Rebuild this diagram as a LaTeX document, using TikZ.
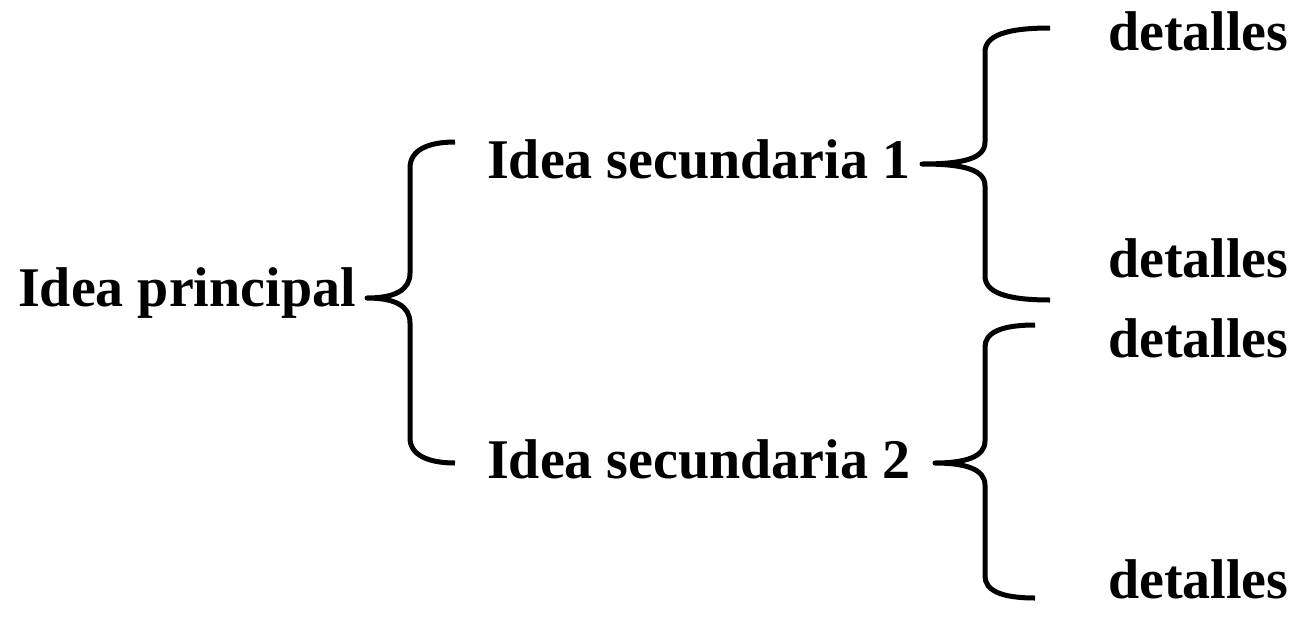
\documentclass[tikz,border=0pt]{standalone}
\usepackage{fontspec}
\setmainfont{Liberation Serif}
\begin{document}
\begin{tikzpicture}[x=1pt,y=-1pt,
  lbl/.style={anchor=base west,inner sep=0pt,font=\fontsize{56}{60}\selectfont\bfseries},
  bracestyle/.style={line width=5pt,line cap=butt,line join=round}]
\useasboundingbox[fill=white] (0,0) rectangle (1294,619);
% texts
\node[lbl] (main) at (18,306) {Idea principal};
\node[lbl] (s1) at (487,178) {Idea secundaria 1};
\node[lbl] (s2) at (487,478) {Idea secundaria 2};
\node[lbl] (d1) at (1108,50) {detalles};
\node[lbl] (d2) at (1108,277) {detalles};
\node[lbl] (d3) at (1108,357) {detalles};
\node[lbl] (d4) at (1108,598) {detalles};
% brace anchor coordinates
\coordinate (b1t) at (367,298);
\coordinate (b1a) at (455,142);
\coordinate (b1b) at (455,463);
\coordinate (b2t) at (922,164);
\coordinate (b2a) at (1050,28);
\coordinate (b2b) at (1050,300);
\coordinate (b3t) at (935,463);
\coordinate (b3a) at (1035,325);
\coordinate (b3b) at (1035,598);
% brace 1
\draw[bracestyle] (b1a) .. controls (428,142) and (410,150) .. (410,168)
  -- (410,273) .. controls (410,290) and (395,298) .. (b1t)
  .. controls (395,298) and (410,306) .. (410,323)
  -- (410,438) .. controls (410,455) and (428,463) .. (b1b);
% brace 2
\draw[bracestyle] (b2a) .. controls (1005,28) and (985,36) .. (985,52)
  -- (985,142) .. controls (985,158) and (965,164) .. (b2t)
  .. controls (965,164) and (985,170) .. (985,186)
  -- (985,276) .. controls (985,292) and (1005,300) .. (b2b);
% brace 3
\draw[bracestyle] (b3a) .. controls (1000,325) and (985,333) .. (985,347)
  -- (985,441) .. controls (985,457) and (965,463) .. (b3t)
  .. controls (965,463) and (985,469) .. (985,485)
  -- (985,576) .. controls (985,590) and (1000,598) .. (b3b);
\end{tikzpicture}
\end{document}
